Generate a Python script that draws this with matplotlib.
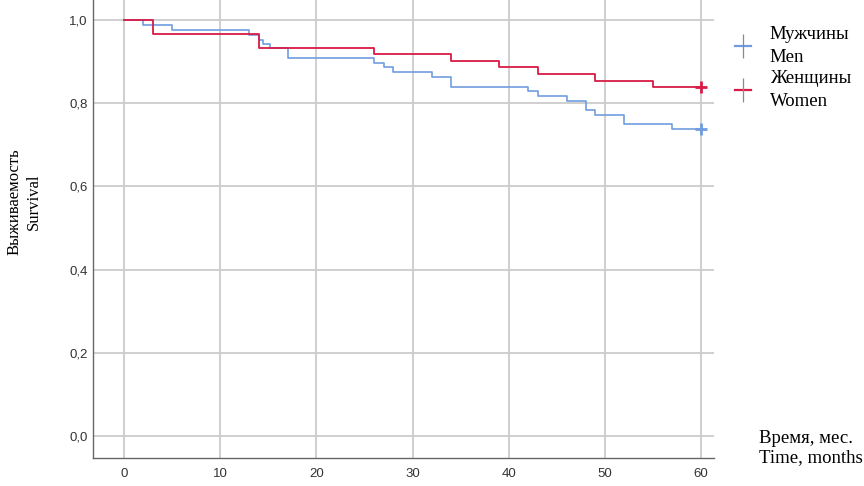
import matplotlib
matplotlib.use("Agg")
import matplotlib.pyplot as plt
from matplotlib.lines import Line2D
from matplotlib.legend_handler import HandlerTuple

# Data (Kaplan-Meier step curves)
men_time = [0, 2, 5, 13, 14, 14.4, 15.2, 17, 26, 27, 28, 32, 34, 42, 43, 46, 48, 49, 52, 57, 60]
men_surv = [1.0, 0.988, 0.975, 0.965, 0.953, 0.942, 0.932, 0.908, 0.897, 0.886, 0.875,
            0.863, 0.840, 0.829, 0.817, 0.806, 0.784, 0.772, 0.749, 0.738, 0.738]
women_time = [0, 3, 14, 26, 34, 39, 43, 49, 55, 60]
women_surv = [1.0, 0.967, 0.933, 0.918, 0.902, 0.886, 0.870, 0.854, 0.838, 0.838]
censor_time = [60]
men_censor = [0.738]
women_censor = [0.838]
x_ticks = [0, 10, 20, 30, 40, 50, 60]
y_ticks = [0.0, 0.2, 0.4, 0.6, 0.8, 1.0]
y_ticklabels = ["0,0", "0,2", "0,4", "0,6", "0,8", "1,0"]
men_label = "Мужчины\nMen"
women_label = "Женщины\nWomen"

blue = "#6f9ddf"
red = "#d81b45"

fig = plt.figure(figsize=(8.64, 4.86), dpi=100)
ax = fig.add_axes([93 / 864, 28 / 486, (714 - 93) / 864, 458 / 486])

ax.set_xlim(-3.22, 61.33)
ax.set_ylim(-0.053, 1.048)
ax.set_xticks(x_ticks)
ax.set_yticks(y_ticks)
ax.set_yticklabels(y_ticklabels)
ax.grid(True, color="#cccccc", linewidth=1.3)
ax.set_axisbelow(True)
for s in ["top", "right"]:
    ax.spines[s].set_visible(False)
for s in ["left", "bottom"]:
    ax.spines[s].set_color("#666666")
    ax.spines[s].set_linewidth(1.0)
ax.tick_params(axis="x", length=0, pad=7, labelsize=9.5, colors="#333333")
ax.tick_params(axis="y", length=0, pad=4, labelsize=9.5, colors="#333333")
for lab in ax.get_xticklabels() + ax.get_yticklabels():
    lab.set_family(["Liberation Sans Narrow", "Liberation Sans", "DejaVu Sans"])

ax.step(men_time, men_surv, where="post", color=blue, lw=1.2)
ax.step(women_time, women_surv, where="post", color=red, lw=1.3)
ax.plot(censor_time, men_censor, ls="none", marker="+", color=blue, ms=9, mew=2)
ax.plot(censor_time, women_censor, ls="none", marker="+", color=red, ms=9, mew=2)

serif = ["Liberation Serif", "DejaVu Serif"]
h_men = (Line2D([], [], color=blue, lw=1.6),
         Line2D([], [], color="#8a8a8a", marker="|", ls="none", ms=17, mew=0.9))
h_women = (Line2D([], [], color=red, lw=1.6),
           Line2D([], [], color="#8a8a8a", marker="|", ls="none", ms=17, mew=0.9))
leg = fig.legend([h_men, h_women], [men_label, women_label],
                 handler_map={tuple: HandlerTuple(ndivide=1)},
                 loc="upper left", bbox_to_anchor=(0.851, 0.946), frameon=False,
                 prop={"family": serif, "size": 13.5}, handlelength=0.85,
                 handletextpad=1.0, labelspacing=0.25, borderaxespad=0.0,
                 borderpad=0.0)
for t in leg.get_texts():
    t.set_linespacing(1.42)

fig.text(0.028, 0.585, "Выживаемость\nSurvival", rotation=90, ha="center", va="center",
         family=serif, size=12, multialignment="center")
fig.text(0.879, 0.078, "Время, мес.\nTime, months", ha="left", va="center",
         family=serif, size=13.5, linespacing=1.1)

fig.savefig("out.png", dpi=100)
